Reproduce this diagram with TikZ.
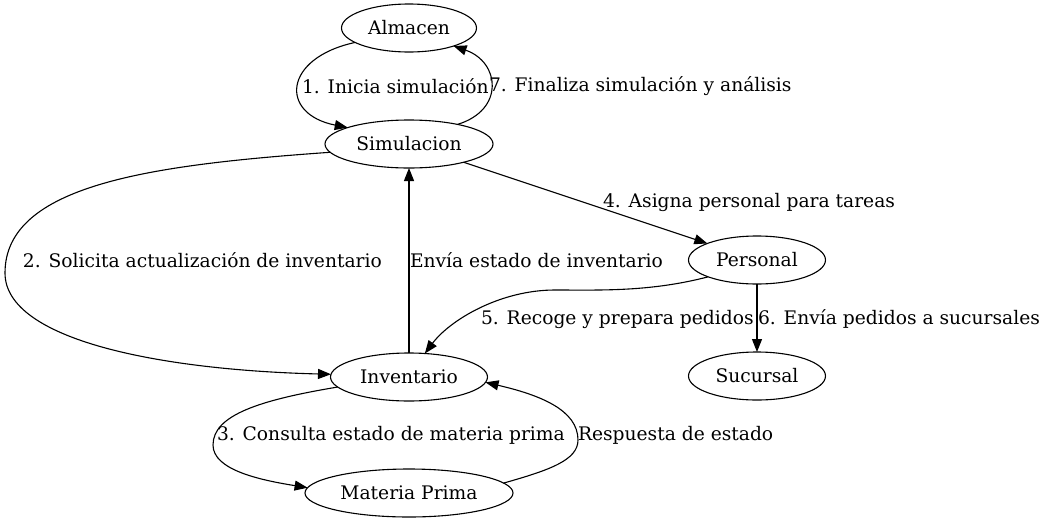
\documentclass[tikz,border=0pt]{standalone}
\usepackage{fontspec}
\setmainfont{DejaVu Serif}
\usetikzlibrary{arrows.meta,shapes.geometric}
\newcommand{\lf}{\fontsize{18.67}{22}\selectfont}

\begin{document}
\begin{tikzpicture}[x=1pt, y=-1pt, line width=1.1pt,
  every node/.style={inner sep=0pt, outer sep=0pt, font=\lf},
  st/.style={draw, ellipse, minimum height=48pt},
  lbl/.style={anchor=west},
  ar/.style={-{Triangle[length=13pt,width=10pt]}}]
\useasboundingbox (0,0) rectangle (1045,523);
% ---- states
\node[st, minimum width=135pt] (alm) at (409,28) {Almacen};
\node[st, minimum width=168pt] (sim) at (409,144) {Simulacion};
\node[st, minimum width=137pt] (per) at (757,260) {Personal};
\node[st, minimum width=157pt] (inv) at (409,377) {Inventario};
\node[st, minimum width=137pt] (suc) at (757,376) {Sucursal};
\node[st, minimum width=208pt] (mat) at (409,493) {Materia Prima};
% ---- edges
\draw[ar] (alm.195) .. controls (283,58) and (279,114) .. (sim.165);
\draw[ar] (sim.22) .. controls (505,110) and (500,62) .. (alm.-22);
\draw[ar] (sim.186) .. controls (150,165) and (5,185) .. (5,273)
  .. controls (5,340) and (160,370) .. (inv.178);
\draw[ar] (inv) -- (sim);
\draw[ar] (sim) -- (per);
\draw[ar] (per.199) .. controls (650,292) and (600,290) .. (555,290)
  .. controls (500,290) and (450,320) .. (inv.56);
\draw[ar] (per) -- (suc);
\draw[ar] (inv.188) .. controls (260,400) and (213,415) .. (213,445)
  .. controls (213,470) and (260,480) .. (mat.177);
\draw[ar] (mat.6) .. controls (550,470) and (578,460) .. (578,440)
  .. controls (578,410) and (540,395) .. (inv.-4);
% ---- edge labels
\node[lbl] (l1) at (302,86) {1. Inicia simulación};
\node[lbl] (l7) at (489,86) {7. Finaliza simulación y análisis};
\node[lbl] (l2) at (23,260) {2. Solicita actualización de inventario};
\node[lbl] (le) at (410,260) {Envía estado de inventario};
\node[lbl] (l4) at (603,202) {4. Asigna personal para tareas};
\node[lbl] (l5) at (481,319) {5. Recoge y prepara pedidos};
\node[lbl] (l6) at (758,319) {6. Envía pedidos a sucursales};
\node[lbl] (l3) at (217,435) {3. Consulta estado de materia prima};
\node[lbl] (lr) at (578,435) {Respuesta de estado};
\end{tikzpicture}
\end{document}
